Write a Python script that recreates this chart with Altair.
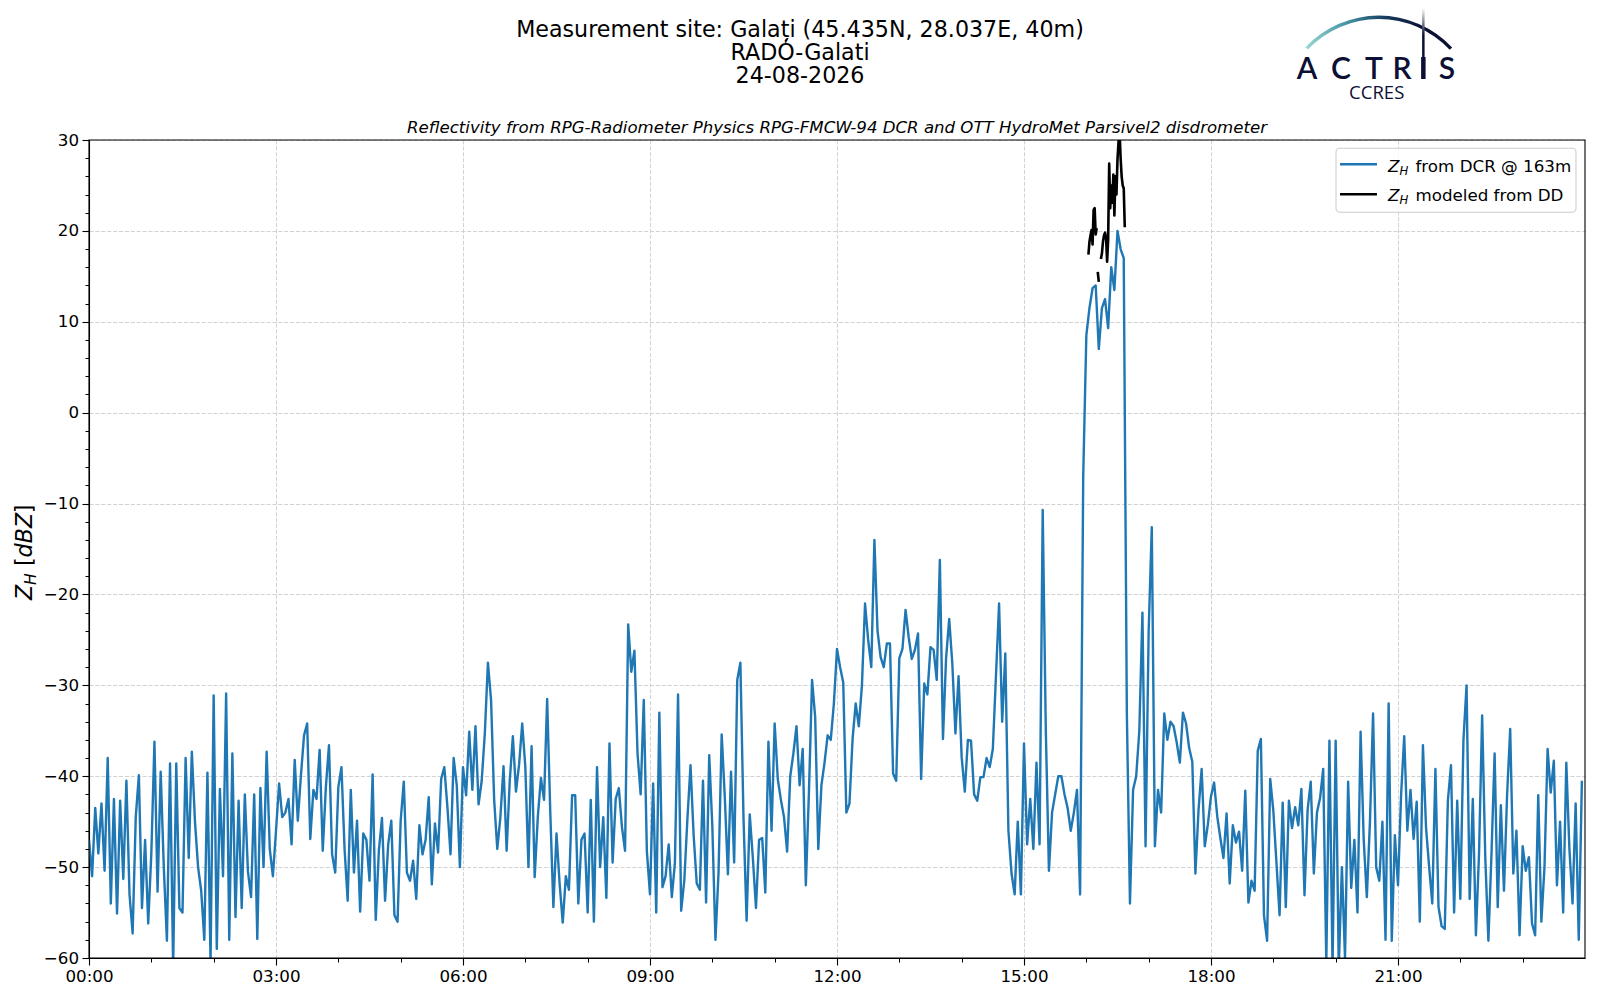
import altair as alt
import pandas as pd

# ------------------------------------------------------------------
# Data
# DCR reflectivity at 163 m, transcribed every 3 minutes (20 values per hour)
STEP_MINUTES = 3
dcr_h00 = [-47, -51, -43.5, -48.5, -43, -50.4, -38, -54, -42.5, -55.1, -42.7, -51.3, -40.5, -53, -57.3, -44.5, -39.9, -54.5, -47, -56.2]
dcr_h01 = [-48.5, -36.2, -52.7, -39.5, -50, -58.1, -38.6, -61, -38.6, -54.5, -55, -38, -49, -37.3, -45, -50, -52.6, -58, -39.6, -60.5]
dcr_h02 = [-31.1, -59, -41.4, -51, -30.9, -58, -37.5, -55.5, -42.7, -54.5, -42, -50.5, -53.3, -42, -57.9, -41.3, -50, -37.3, -48, -51]
dcr_h03 = [-46, -40.8, -44.5, -44, -42.5, -47.5, -38.2, -44.9, -39.9, -35.5, -34.2, -46.9, -41.5, -42.5, -37.1, -48.2, -41.2, -36.6, -48.6, -50.6]
dcr_h04 = [-41.2, -39, -48, -53.7, -41.5, -50.6, -44.9, -54.9, -46.3, -47, -51.5, -39.8, -55.8, -48.2, -44.6, -53.7, -47.5, -44.9, -55.3, -56]
dcr_h05 = [-44.9, -40.6, -50.6, -51.5, -49.3, -53.5, -45.4, -48.6, -47, -42.3, -51.9, -45.2, -48.4, -40.3, -39, -43.4, -48.6, -38, -41, -50]
dcr_h06 = [-39, -42.1, -35.1, -41.5, -34.5, -43.1, -40.5, -35.3, -27.5, -31.6, -42.6, -48, -44.5, -38.9, -48.2, -40.5, -35.6, -41.7, -38.7, -34.2]
dcr_h07 = [-39, -50, -36.7, -51.1, -44.5, -40.2, -42.6, -31.5, -43.9, -54.4, -46.3, -51.8, -56.1, -51, -52.5, -42.1, -42.1, -54, -47, -46.3]
dcr_h08 = [-55, -42.6, -56, -39, -50, -44.5, -53.4, -36.4, -49.5, -42.5, -41.3, -45.6, -48.2, -23.3, -28.5, -26.2, -37.5, -42, -31.6, -48.3]
dcr_h09 = [-53, -40.8, -55, -33, -52.2, -51, -47.5, -53.3, -49.5, -31, -54.8, -51.5, -44.7, -38.8, -46.5, -51.8, -52.5, -40.5, -53.9, -37.7]
dcr_h10 = [-45.5, -58, -50.5, -35.4, -42.3, -50.8, -39.5, -49.5, -29.4, -27.5, -44.6, -55.9, -44.2, -49, -54.5, -47, -46.8, -52.8, -36.2, -46]
dcr_h11 = [-34.2, -40.3, -42.6, -44.5, -48.3, -40, -37.5, -34.5, -41, -37, -52, -41.7, -29.4, -33.5, -48, -41, -38.5, -35.5, -36, -32]
dcr_h12 = [-26, -28, -29.7, -44, -43, -35.9, -32, -34.5, -30, -21, -25, -28, -14, -24, -26.9, -28, -25.4, -25.4, -39.7, -40.5]
dcr_h13 = [-27, -26, -21.7, -24.7, -27.1, -26.1, -24.3, -40.3, -29.8, -31, -25.8, -26.1, -29.4, -16.2, -35.9, -27, -22.7, -27.6, -35.3, -29]
dcr_h14 = [-37.9, -41.7, -36, -36.1, -42, -42.7, -40.1, -40.1, -38, -39, -37, -29, -21, -34, -26.5, -46, -50.7, -53, -45, -53]
dcr_h15 = [-36.4, -47.5, -42.5, -48, -38.5, -47.5, -10.7, -35, -50.4, -44, -42, -40, -40, -42, -43.5, -46, -44, -41.5, -53, -7]
dcr_h16 = [8.5, 11.5, 13.7, 14, 7, 11.5, 12.5, 9.3, 16, 13.5, 20, 18, 17, -33, -54, -41.5, -40, -35, -22, -47.7]
dcr_h17 = [-24, -12.6, -47.7, -41.5, -44, -33.1, -36, -34, -34.5, -36.3, -38.5, -33, -34.2, -36.9, -38.4, -50.7, -43.7, -39.2, -47.7, -45.3]
dcr_h18 = [-42.2, -40.7, -44.4, -46.8, -49, -44.1, -51.8, -45.4, -47.3, -46.1, -50.4, -41.6, -53.9, -51.5, -52.6, -37.2, -35.9, -55.3, -58.1, -40.3]
dcr_h19 = [-43.8, -49.5, -55.3, -42.9, -54.4, -42.7, -45.7, -43.4, -45.4, -41.4, -53.1, -43.7, -40.6, -50.7, -44, -42.4, -39.2, -60.5, -36.1, -61]
dcr_h20 = [-36.1, -61, -50, -60, -40.6, -52.3, -47, -55, -35.1, -47, -53.3, -45, -33.1, -50, -51.5, -45, -58, -32, -58.1, -46.5]
dcr_h21 = [-52, -42, -35.6, -46, -41.5, -46.9, -42.8, -56, -36.6, -45.7, -50, -54, -39.2, -54.4, -56.5, -56.8, -42.7, -38.8, -55, -42.7]
dcr_h22 = [-53.5, -36, -30, -53.5, -42.5, -57.5, -48.5, -33.3, -48.9, -58.1, -48.5, -37.5, -54.4, -43.2, -52.6, -42.1, -34.8, -50.7, -46, -57.5]
dcr_h23 = [-47.7, -50.4, -48.9, -56.2, -57.5, -42.1, -56, -50, -37, -41.8, -38.3, -52, -45, -55, -38.5, -48, -54, -43, -58, -40.5]

# Reflectivity modeled from the disdrometer (minutes after 16:00), 3 pieces
dd_minutes_after_16 = [2, 3, 4, 5, 6, 7, 8, 9, 10,
                       11, 12,
                       14, 15, 16, 17, 18, 19, 20, 21, 22, 23, 24, 25, 26, 27, 28, 29, 30, 31, 32, 33, 34, 35, 36, 37]
dd_values = [17.4, 18.8, 19.5, 20.1, 18.5, 22.3, 22.5, 19.6, 20.3,
             15.5, 14.4,
             16.9, 17.5, 18.8, 19.5, 19.8, 19.2, 16.6, 19, 27.4, 22.5, 25, 23.1, 26.2, 21.7, 26, 24, 27.9, 29.8, 31, 28, 26, 25, 24.7, 20.4]
dd_piece = [1] * 9 + [2] * 2 + [3] * 24

x_major = [0, 3, 6, 9, 12, 15, 18, 21]
x_minor = [1, 2, 4, 5, 7, 8, 10, 11, 13, 14, 16, 17, 19, 20, 22, 23]
y_major = [-60, -50, -40, -30, -20, -10, 0, 10, 20, 30]
y_minor = [v for v in range(-60, 31, 2) if v % 10 != 0]

# ------------------------------------------------------------------
dcr_values = (dcr_h00 + dcr_h01 + dcr_h02 + dcr_h03 + dcr_h04 + dcr_h05 + dcr_h06 + dcr_h07
              + dcr_h08 + dcr_h09 + dcr_h10 + dcr_h11 + dcr_h12 + dcr_h13 + dcr_h14 + dcr_h15
              + dcr_h16 + dcr_h17 + dcr_h18 + dcr_h19 + dcr_h20 + dcr_h21 + dcr_h22 + dcr_h23)
dcr = pd.DataFrame({"t": [i * STEP_MINUTES / 60 for i in range(len(dcr_values))], "z": dcr_values})
dd = pd.DataFrame({"t": [16 + m / 60 for m in dd_minutes_after_16], "z": dd_values, "piece": dd_piece})
one = pd.DataFrame({"k": [0]})

W, H = 1496, 818
FONT = "DejaVu Sans"
NAVY = "#0c1035"
xs = alt.Scale(domain=[0, 24], nice=False, zero=False)
ys = alt.Scale(domain=[-60, 30], nice=False, zero=False)

common = dict(tickColor="black", tickWidth=1.1, domainColor="black", domainWidth=1.1,
              labelFont=FONT, labelFontSize=16.7, labelColor="black", labelFlush=False,
              labelOverlap=False, title="")
x_axis_major = alt.Axis(values=x_major, orient="bottom", grid=True, gridColor="#d2d2d2",
                        gridDash=[4.1, 1.8], gridWidth=1.0, tickSize=7, labelPadding=3,
                        labelExpr="(datum.value < 10 ? '0' : '') + datum.value + ':00'", **common)
y_axis_major = alt.Axis(values=y_major, orient="left", grid=True, gridColor="#d2d2d2",
                        gridDash=[4.1, 1.8], gridWidth=1.0, tickSize=7, labelPadding=3.5,
                        format="d", **common)
x_axis_minor = alt.Axis(values=x_minor, orient="bottom", grid=False, labels=False, domain=False,
                        tickSize=4, tickColor="black", tickWidth=1.0, title="")
y_axis_minor = alt.Axis(values=y_minor, orient="left", grid=False, labels=False, domain=False,
                        tickSize=4, tickColor="black", tickWidth=1.0, title="")

blue = alt.Chart(dcr).mark_line(color="#1f77b4", strokeWidth=2.4, clip=True, strokeJoin="round").encode(
    x=alt.X("t:Q", scale=xs, axis=x_axis_major),
    y=alt.Y("z:Q", scale=ys, axis=y_axis_major),
)
black = alt.Chart(dd).mark_line(color="black", strokeWidth=2.6, clip=True, strokeJoin="round").encode(
    x=alt.X("t:Q", scale=xs, axis=x_axis_minor),
    y=alt.Y("z:Q", scale=ys, axis=y_axis_minor),
    detail="piece:N",
)

# plot frame drawn above the data (like matplotlib spines)
frame = alt.Chart(one).mark_rect(fill="transparent", stroke="black", strokeWidth=1.1).encode(
    x=alt.value(0), x2=alt.value(W), y=alt.value(0), y2=alt.value(H))


def txt(s, x, y, size, align="left", style="normal", font=FONT, color="black", angle=0, weight="normal"):
    return alt.Chart(one).mark_text(
        text=s, font=font, fontSize=size, fontStyle=style, fontWeight=weight, color=color,
        align=align, baseline="alphabetic", angle=angle,
    ).encode(x=alt.value(x), y=alt.value(y))


# titles (positions relative to the plot area)
titles = [
    txt("Measurement site: Galați (45.435N, 28.037E, 40m)", 711, -103.3, 22.2, align="center"),
    txt("RADÓ-Galati", 711, -80.2, 22.2, align="center"),
    txt("24-08-2026", 711, -57.2, 22.2, align="center"),
    txt("Reflectivity from RPG-Radiometer Physics RPG-FMCW-94 DCR and OTT HydroMet Parsivel2 disdrometer",
        W / 2, -7, 16.6, align="center", style="italic"),
]

# y-axis title  Z_H [dBZ]
ylab = [
    txt("Z", -57.3, 460, 22.2, style="italic", angle=270),
    txt("H", -53.3, 445, 15.5, style="italic", angle=270),
    txt("[", -57.3, 426, 22.2, angle=270),
    txt("dBZ", -57.3, 417.4, 22.2, style="italic", angle=270),
    txt("]", -57.3, 373.3, 22.2, angle=270),
]

# legend
legend_box = alt.Chart(one).mark_rect(fill="white", fillOpacity=0.8, stroke="#cccccc", strokeWidth=1.1,
                                      cornerRadius=4).encode(
    x=alt.value(1247), x2=alt.value(1487), y=alt.value(8.3), y2=alt.value(72.3))
leg_blue = alt.Chart(one).mark_rule(color="#1f77b4", strokeWidth=2.4).encode(
    x=alt.value(1251), x2=alt.value(1288), y=alt.value(24.3))
leg_black = alt.Chart(one).mark_rule(color="black", strokeWidth=2.6).encode(
    x=alt.value(1251), x2=alt.value(1288), y=alt.value(54.3))
leg_text = [
    txt("Z", 1299, 31.7, 16.7, style="italic"),
    txt("H", 1310.5, 34.8, 11.7, style="italic"),
    txt("from DCR @ 163m", 1326.5, 31.7, 16.7),
    txt("Z", 1299, 61.2, 16.7, style="italic"),
    txt("H", 1310.5, 64.3, 11.7, style="italic"),
    txt("modeled from DD", 1326.5, 61.2, 16.7),
]

# ACTRIS / CCRES logo
arc_fill = alt.LinearGradient(gradient="linear", x1=0, x2=1, y1=0, y2=0, stops=[
    alt.GradientStop(color="#9ad8d2", offset=0),
    alt.GradientStop(color="#3f8fa0", offset=0.3),
    alt.GradientStop(color="#163a5c", offset=0.55),
    alt.GradientStop(color=NAVY, offset=0.8),
])
logo_arc = alt.Chart(one).mark_arc(radius=100.8, radius2=97.4, theta=5.47, theta2=7.10,
                                   fill=arc_fill).encode(x=alt.value(1289.7), y=alt.value(-23.6))
stem_fill = alt.LinearGradient(gradient="linear", x1=0, x2=0, y1=0, y2=1, stops=[
    alt.GradientStop(color="#ffffff", offset=0),
    alt.GradientStop(color=NAVY, offset=0.55),
])
logo_stem = alt.Chart(one).mark_rect(fill=stem_fill).encode(
    x=alt.value(1333.1), x2=alt.value(1335.6), y=alt.value(-132), y2=alt.value(-82))
logo_i = alt.Chart(one).mark_rect(fill=NAVY).encode(
    x=alt.value(1332.1), x2=alt.value(1336.6), y=alt.value(-83), y2=alt.value(-61))
logo_letters = [
    txt(ch, cx, -61, 30, align="center", font="Lato", color=NAVY, weight=600)
    for ch, cx in [("A", 1218), ("C", 1252), ("T", 1285), ("R", 1313), ("S", 1358)]
]
logo_sub = txt("CCRES", 1287.7, -40.7, 18.5, align="center", font="Open Sans", color=NAVY)

layers = [blue, black, frame, legend_box, leg_blue, leg_black] + leg_text + titles + ylab + \
         [logo_arc, logo_stem, logo_i] + logo_letters + [logo_sub]

chart = alt.layer(*layers).resolve_axis(x="independent", y="independent").properties(
    width=W, height=H,
    autosize=alt.AutoSizeParams(type="none"),
    padding={"left": 81, "top": 132, "right": 7, "bottom": 34},
    background="white",
).configure_view(strokeWidth=0)

chart.save("out.html", embed_options={"renderer": "svg", "actions": False})
